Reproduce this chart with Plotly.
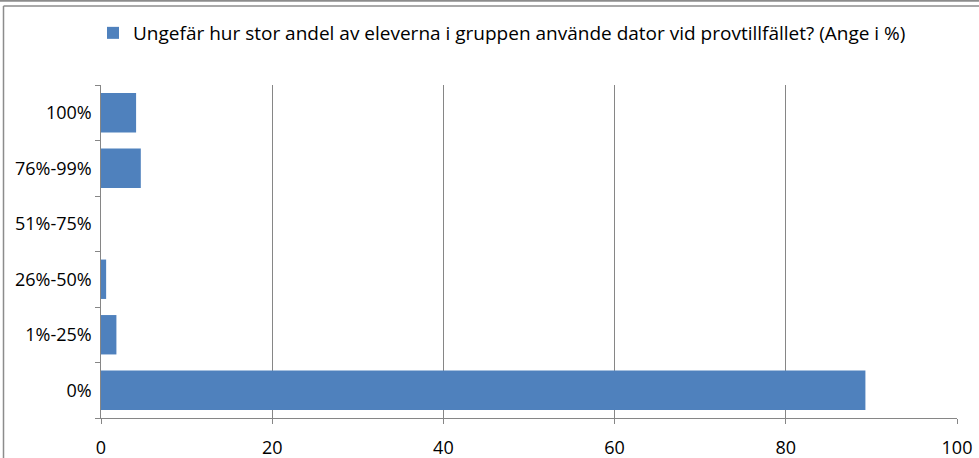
import plotly.graph_objects as go

categories = ["0%", "1%-25%", "26%-50%", "51%-75%", "76%-99%", "100%"]
values = [89.3, 1.8, 0.6, 0.0, 4.65, 4.1]
series_name = "Ungefär hur stor andel av eleverna i gruppen använde dator vid provtillfället? (Ange i %)"
x_ticks = [0, 20, 40, 60, 80, 100]

font_family = "Open Sans, Liberation Sans, Arial, sans-serif"

W, H = 979, 458
L, R, T, B = 101, 22, 85, 40
pw, ph = W - L - R, H - T - B

def px(x):
    return (x - L) / pw

def py(y):
    return (H - B - y) / ph

fig = go.Figure()
fig.add_trace(go.Bar(
    y=categories, x=values, orientation="h", name=series_name,
    marker=dict(color="#4F81BD", line=dict(width=0)),
    showlegend=True,
))

border = "#8c8c8c"
fig.update_layout(
    width=W, height=H,
    margin=dict(l=L, r=R, t=T, b=B, autoexpand=False),
    paper_bgcolor="white", plot_bgcolor="white",
    bargap=0.29,
    font=dict(family=font_family, size=18, color="#000000"),
    showlegend=True,
    legend=dict(orientation="h", x=px(502), xanchor="center", y=py(33), yanchor="middle",
                font=dict(size=19), itemwidth=30, bgcolor="rgba(0,0,0,0)"),
    xaxis=dict(range=[0, 100], tickvals=x_ticks, showgrid=True, gridcolor="#868686", gridwidth=1,
               showline=True, linecolor="#868686", linewidth=1, ticks="outside", ticklen=5,
               tickcolor="#868686", zeroline=False, tickfont=dict(size=18), automargin=False,
               ticklabelstandoff=8),
    yaxis=dict(type="category", categoryorder="array", categoryarray=categories,
               showline=True, linecolor="#868686", linewidth=1, ticks="outside", ticklen=5,
               tickcolor="#868686", tickson="boundaries", showgrid=False, tickfont=dict(size=18),
               ticksuffix=" ", automargin=False),
    shapes=[
        dict(type="line", xref="paper", yref="paper", x0=px(0), x1=px(979), y0=py(0.8), y1=py(0.8),
             line=dict(color=border, width=2)),
        dict(type="line", xref="paper", yref="paper", x0=px(3.5), x1=px(979), y0=py(6), y1=py(6),
             line=dict(color=border, width=1.5)),
        dict(type="line", xref="paper", yref="paper", x0=px(3.5), x1=px(3.5), y0=py(6), y1=py(460),
             line=dict(color=border, width=1.5)),
    ],
)

fig.write_html("out.html", config={"displayModeBar": False},
               post_script="document.body.style.margin='0';")
